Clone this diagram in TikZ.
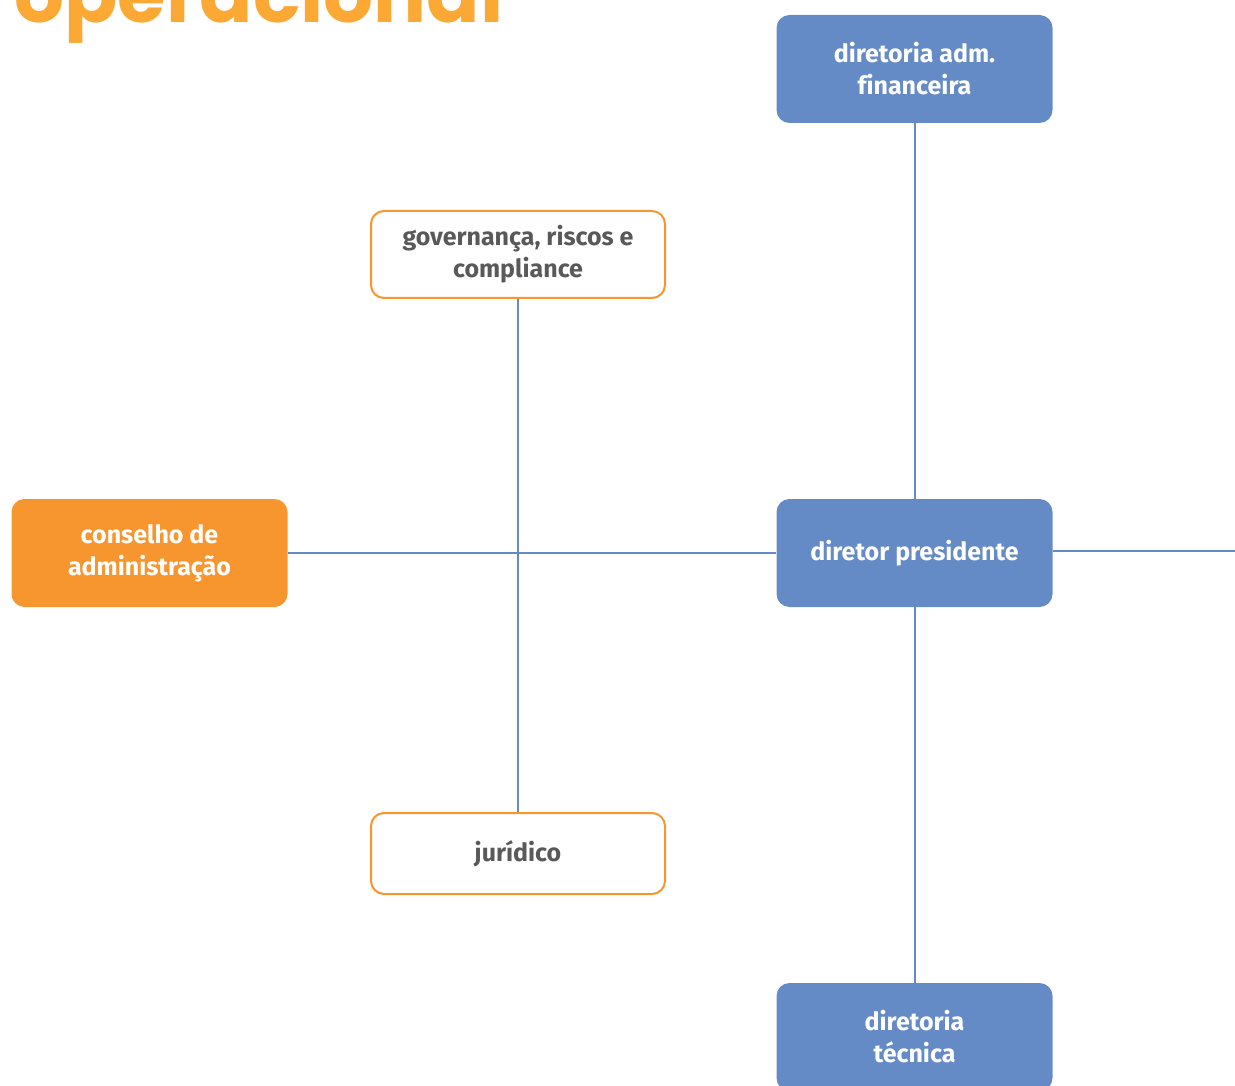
\documentclass[tikz,border=0pt]{standalone}
\usepackage{fontspec}
\setmainfont{Fira Sans}[Ligatures=NoCommon]
\newfontfamily\titlefont{Poppins}
\definecolor{b1}{HTML}{658BC6}
\definecolor{o1}{HTML}{F7962F}
\definecolor{o2}{HTML}{FBA834}
\definecolor{g1}{HTML}{595959}

\begin{document}
\begin{tikzpicture}[x=1pt,y=-1pt,
  caixa/.style={rounded corners=13pt,minimum width=276pt,align=center,inner sep=0pt,font=\fontsize{25}{32}\selectfont\bfseries},
  azul/.style={caixa,fill=b1,text=white,minimum height=108pt},
  laranja/.style={caixa,fill=o1,text=white,minimum height=108pt},
  branca/.style={caixa,draw=o1,line width=2pt,fill=white,text=g1,minimum width=294pt},
  linha/.style={draw=b1,line width=2pt}]
  \useasboundingbox (0,0) rectangle (1235,1086);
  \clip (0,0) rectangle (1235,1086);
  \node[anchor=base west,inner sep=0pt,text=o2,font=\titlefont\fontsize{78.6}{86}\selectfont\bfseries] (titulo) at (14,23) {operacional};
  % caixas
  \node[azul] (financeira) at (914.5,69) {diretoria adm.\\financeira};
  \node[branca,minimum height=87pt] (governanca) at (518,254.5) {governança, riscos e\\compliance};
  \node[laranja] (conselho) at (149.5,553) {conselho de\\administração};
  \node[azul] (presidente) at (914.5,553) {diretor presidente};
  \node[branca,minimum height=81pt] (juridico) at (518,853.5) {jurídico};
  \node[azul] (tecnica) at (914.5,1037) {diretoria\\técnica};
  \coordinate (fim) at (1235,551);
  % ligações
  \draw[linha] (conselho) -- (presidente);
  \draw[linha] (governanca) -- (juridico);
  \draw[linha] (financeira) -- (presidente);
  \draw[linha] (presidente) -- (tecnica);
  \draw[linha] (presidente.east |- fim) -- (fim);
\end{tikzpicture}
\end{document}
